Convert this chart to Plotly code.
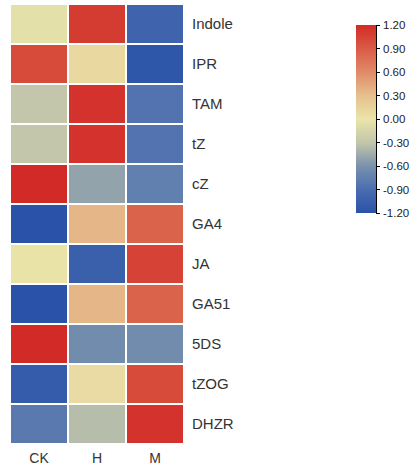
import plotly.graph_objects as go

samples = ["CK", "H", "M"]
hormones = ["Indole", "IPR", "TAM", "tZ", "cZ", "GA4", "JA", "GA51", "5DS", "tZOG", "DHZR"]

ck = [-0.05, 1.00, -0.30, -0.30, 1.20, -1.20, 0.02, -1.20, 1.20, -1.10, -0.80]
h = [1.10, 0.10, 1.15, 1.15, -0.50, 0.35, -1.05, 0.35, -0.65, 0.08, -0.35]
m = [-1.00, -1.15, -0.85, -0.85, -0.75, 0.85, 1.05, 0.85, -0.65, 1.00, 1.15]

cbar_ticks = [1.2, 0.9, 0.6, 0.3, 0.0, -0.3, -0.6, -0.9, -1.2]
zmin, zmax = -1.2, 1.2

z = [[a, b, c] for a, b, c in zip(ck, h, m)]

colorscale = [
    [0.0, "#2A52A8"],
    [0.125, "#4A6DB0"],
    [0.25, "#7A92AD"],
    [0.375, "#C3C6AA"],
    [0.5, "#EAE5AA"],
    [0.625, "#E6C08E"],
    [0.75, "#E08A68"],
    [0.875, "#D95B45"],
    [1.0, "#D22B27"],
]

W, H = 411, 467
FONT = "Liberation Sans, Arial"
PL, PR, PT, PB = 10, 184, 4, 444          # plot area in pixels
cb_top, cb_bot = 25, 213
cb_left, cb_right = 356, 376


def px_x(x):
    return (x - PL) / (PR - PL)


def px_y(y):
    return (PB - y) / (PB - PT)


fig = go.Figure(go.Heatmap(
    z=z, x=samples, y=hormones,
    zmin=zmin, zmax=zmax,
    colorscale=colorscale,
    xgap=2, ygap=2,
    colorbar=dict(
        x=px_x(cb_left), xanchor="left", xpad=0, ypad=0,
        y=px_y((cb_top + cb_bot) / 2), yanchor="middle",
        thickness=cb_right - cb_left, thicknessmode="pixels",
        len=cb_bot - cb_top, lenmode="pixels",
        outlinewidth=0,
        tickvals=cbar_ticks, showticklabels=False,
        ticks="outside", ticklen=4, tickwidth=1, tickcolor="#000",
    ),
))

fig.add_shape(type="line", xref="paper", yref="paper",
              x0=px_x(cb_right + 0.5), x1=px_x(cb_right + 0.5),
              y0=px_y(cb_top), y1=px_y(cb_bot),
              line=dict(color="#000", width=1))

for v in cbar_ticks:
    ypx = cb_top + (zmax - v) / (zmax - zmin) * (cb_bot - cb_top)
    fig.add_annotation(xref="paper", yref="paper",
                       x=px_x(cb_right + 5), y=px_y(ypx),
                       xanchor="left", yanchor="middle", showarrow=False,
                       text=f"{v:.2f}", font=dict(size=11.5, color="#222", family=FONT))

fig.update_layout(
    width=W, height=H,
    margin=dict(l=PL, r=W - PR, t=PT, b=H - PB, autoexpand=False),
    paper_bgcolor="white", plot_bgcolor="white",
    font=dict(family=FONT, size=15, color="#333"),
    xaxis=dict(showgrid=False, zeroline=False, automargin=False,
               ticks="", tickfont=dict(size=14), ticklabelstandoff=4),
    yaxis=dict(autorange="reversed", automargin=False,
               side="right", showgrid=False, zeroline=False, ticks="",
               tickfont=dict(size=15), ticklabelstandoff=7),
)

fig.write_html("out.html", config={"displayModeBar": False},
               post_script="document.body.style.margin='0';")
